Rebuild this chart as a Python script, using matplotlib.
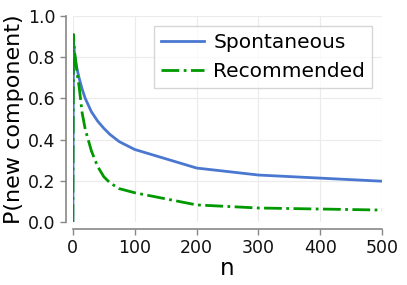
import matplotlib
matplotlib.use("Agg")
import matplotlib.pyplot as plt

n = [0, 1, 2, 3, 5, 7, 10, 15, 20, 30, 40, 50, 60, 75, 100, 200, 300, 500]
spontaneous = [0, 0.88, 0.84, 0.81, 0.77, 0.74, 0.70, 0.645, 0.60, 0.535, 0.49, 0.455, 0.425, 0.39, 0.352, 0.262, 0.228, 0.198]
recommended = [0, 0.91, 0.86, 0.82, 0.77, 0.72, 0.66, 0.53, 0.45, 0.345, 0.27, 0.22, 0.19, 0.162, 0.142, 0.083, 0.068, 0.058]
xticks = [0, 100, 200, 300, 400, 500]
yticks = [0.0, 0.2, 0.4, 0.6, 0.8, 1.0]

fig = plt.figure(figsize=(4.07, 2.85), dpi=100)
ax = fig.add_axes([0.179, 0.221, 0.760, 0.723])
ax.plot(n, spontaneous, color="#4a78d0", lw=2, label="Spontaneous")
ax.plot(n, recommended, color="#009900", lw=2, ls="-.", label="Recommended")
ax.set_xlim(0, 500)
ax.set_ylim(0, 1.0)
ax.set_xticks(xticks)
ax.set_yticks(yticks)
ax.set_yticklabels([f"{v:.1f}" for v in yticks])
ax.grid(True, color="#ebebeb", lw=0.8)
ax.set_axisbelow(True)
for s in ["top", "right"]:
    ax.spines[s].set_visible(False)
for s in ["left", "bottom"]:
    ax.spines[s].set_position(("outward", 5))
    ax.spines[s].set_color("#888888")
    ax.spines[s].set_linewidth(1.2)
ax.tick_params(colors="#888888", labelcolor="#111111", labelsize=12.5, length=4, width=1)
ax.set_xlabel("n", fontsize=16.5, labelpad=0)
ax.set_ylabel("P(new component)", fontsize=16, labelpad=3)
leg = ax.legend(loc="upper right", fontsize=14.5, frameon=True, fancybox=False,
                edgecolor="#cccccc", handlelength=2.15, handletextpad=0.45,
                borderaxespad=0.5, borderpad=0.35, labelspacing=0.5)
leg.get_frame().set_linewidth(1)
fig.savefig("out.png", dpi=100)
